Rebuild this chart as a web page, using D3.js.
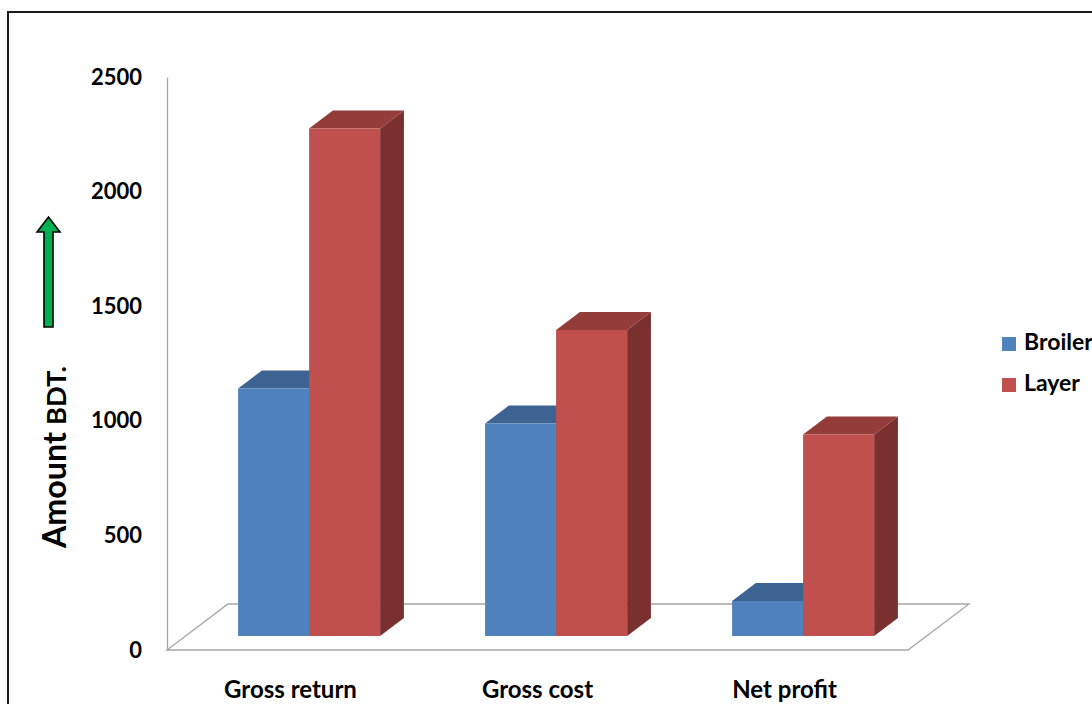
<!DOCTYPE html>
<html>
<head>
<meta charset="utf-8">
<script src="https://cdn.jsdelivr.net/npm/d3@7"></script>
<style>
    html, body { margin: 0; padding: 0; background: #fff; }
    svg { display: block; font-family: Lato, 'Open Sans', sans-serif; font-weight: bold; }
</style>
</head>
<body>
<svg id="chart" width="1092" height="704"></svg>
<script>
const categories = ['Gross return', 'Gross cost', 'Net profit'];
const seriesNames = ['Broiler', 'Layer'];
const broilerValues = [1080, 927, 153];
const layerValues = [2214, 1335, 879];
const yTicks = [0, 500, 1000, 1500, 2000, 2500];

const COLORS = {
    Broiler: { front: '#4f81bd', top: '#3c6392', side: '#3a5f8c' },
    Layer: { front: '#c0504d', top: '#943c3a', side: '#7a302f' },
};

// floor of the 3d plot: front edge and the depth vector to the back edge
const floor = { left: 167, right: 908, y: 650, dx: 61, dy: -46 };
const barDepth = [0.305, 0.695];

const svg = d3.select('#chart');

const x = d3
    .scaleBand()
    .domain(categories)
    .range([floor.left, floor.right])
    .paddingInner(0.425)
    .paddingOuter(0.2125);
const xs = d3.scaleBand().domain(seriesNames).range([0, x.bandwidth()]);
const y = d3.scaleLinear().domain([0, 2500]).range([floor.y, 77]);

const rows = categories.flatMap((cat, i) => [
    { cat, series: 'Broiler', value: broilerValues[i] },
    { cat, series: 'Layer', value: layerValues[i] },
]);

// outer frame
svg.append('rect')
    .attr('x', 8)
    .attr('y', 12)
    .attr('width', 1100)
    .attr('height', 720)
    .attr('fill', 'none')
    .attr('stroke', '#1a1a1a')
    .attr('stroke-width', 2);

// floor
const fl = [
    [floor.left, floor.y],
    [floor.right, floor.y],
    [floor.right + floor.dx, floor.y + floor.dy],
    [floor.left + floor.dx, floor.y + floor.dy],
];
svg.append('path')
    .attr('d', d3.line()(fl) + 'Z')
    .attr('fill', 'none')
    .attr('stroke', '#a6a6a6')
    .attr('stroke-width', 1.3);

// y axis
const yAxis = svg
    .append('g')
    .attr('transform', `translate(${floor.left},0)`)
    .call(
        d3
            .axisLeft(y)
            .tickValues(yTicks)
            .tickFormat(d3.format('d'))
            .tickSize(0)
            .tickSizeOuter(0)
            .tickPadding(25),
    );
yAxis.select('.domain').attr('stroke', '#a6a6a6').attr('stroke-width', 1.3);
yAxis.selectAll('text')
    .attr('font-size', 22)
    .attr('font-family', 'Lato, sans-serif')
    .attr('font-weight', 'bold')
    .attr('fill', '#000');

// bars
const pt = (px, v, f) => [px + floor.dx * f, y(v) + floor.dy * f];

const bars = svg
    .append('g')
    .selectAll('g')
    .data(rows)
    .join('g');

bars.each(function (d) {
    const g = d3.select(this);
    const x0 = x(d.cat) + xs(d.series);
    const x1 = x0 + xs.bandwidth();
    const [f0, f1] = barDepth;
    const c = COLORS[d.series];

    g.append('path')
        .attr('d', d3.line()([pt(x1, d.value, f0), pt(x1, d.value, f1), pt(x1, 0, f1), pt(x1, 0, f0)]) + 'Z')
        .attr('fill', c.side);
    g.append('path')
        .attr('d', d3.line()([pt(x0, d.value, f0), pt(x1, d.value, f0), pt(x1, d.value, f1), pt(x0, d.value, f1)]) + 'Z')
        .attr('fill', c.top);
    g.append('path')
        .attr('d', d3.line()([pt(x0, d.value, f0), pt(x1, d.value, f0), pt(x1, 0, f0), pt(x0, 0, f0)]) + 'Z')
        .attr('fill', c.front);
});

// category labels
svg.append('g')
    .selectAll('text')
    .data(categories)
    .join('text')
    .attr('x', d => x(d) + x.bandwidth() / 2)
    .attr('y', 692)
    .attr('text-anchor', 'middle')
    .attr('dominant-baseline', 'middle')
    .attr('font-size', 24)
    .text(d => d);

// axis title, two sizes, fitted to the widths seen in the picture
function fitText(sel, size, target) {
    sel.attr('font-size', size);
    const w = sel.node().getComputedTextLength();
    sel.attr('font-size', (size * target) / w);
}

const titleBig = svg
    .append('text')
    .attr('transform', 'translate(66,548) rotate(-90)')
    .text('Amount');
fitText(titleBig, 36, 116);

const titleSmall = svg
    .append('text')
    .attr('transform', 'translate(66,425) rotate(-90)')
    .text('BDT.');
fitText(titleSmall, 24, 59);

const arrow = [
    [44, 327], [53, 327], [53, 232], [60, 232], [48.5, 217], [37, 232], [44, 232],
];
svg.append('path')
    .attr('d', d3.line()(arrow) + 'Z')
    .attr('fill', '#00b050')
    .attr('stroke', '#000')
    .attr('stroke-width', 1.6)
    .attr('stroke-linejoin', 'miter');

// legend
const legend = svg
    .append('g')
    .selectAll('g')
    .data(seriesNames)
    .join('g')
    .attr('transform', (d, i) => `translate(1002,${337 + i * 41})`);
legend.append('rect')
    .attr('width', 14)
    .attr('height', 14)
    .attr('fill', d => COLORS[d].front);
legend.append('text')
    .attr('x', 22)
    .attr('y', 7)
    .attr('dominant-baseline', 'middle')
    .attr('font-size', 23)
    .text(d => d);
</script>
</body>
</html>
